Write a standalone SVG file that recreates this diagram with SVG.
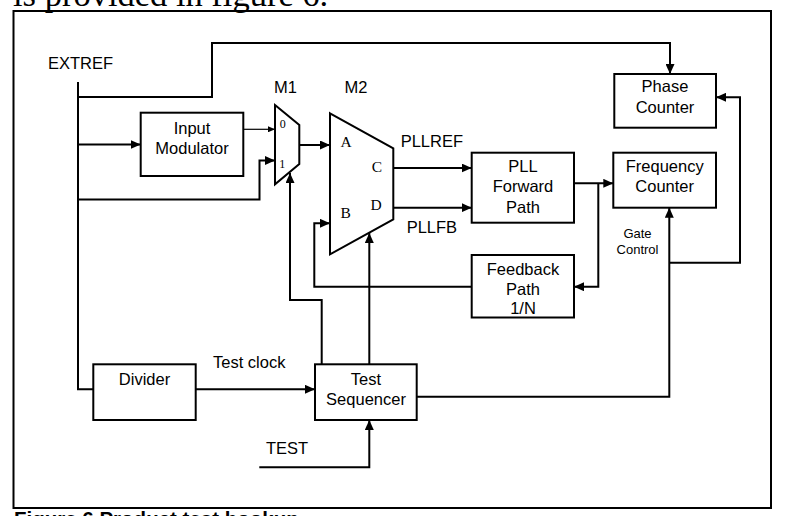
<svg xmlns="http://www.w3.org/2000/svg" width="789" height="516" viewBox="0 0 789 516">
  <style>
    .box { fill: #fff; stroke: #000; stroke-width: 2; }
    .mux { fill: #fff; stroke: #000; stroke-width: 2; stroke-linejoin: miter; }
    .wire { fill: none; stroke: #000; stroke-width: 2; }
    .thin { fill: none; stroke: #000; stroke-width: 1.2; }
    .lbl { font-family: "Liberation Sans", Arial, sans-serif; font-size: 16.5px; fill: #000; }
    .mid { text-anchor: middle; }
    .small { font-size: 13px; }
    .pin { font-family: "Liberation Serif", "Times New Roman", serif; font-size: 15.5px; fill: #000; text-anchor: middle; }
    .pinS { font-size: 12px; }
  </style>
  <defs>
    <marker id="arr" markerUnits="userSpaceOnUse" markerWidth="10" markerHeight="9" refX="10" refY="4.5" orient="auto">
      <path d="M0,0 L10,4.5 L0,9 Z" fill="#000"/>
    </marker>
    <marker id="arrS" markerUnits="userSpaceOnUse" markerWidth="7" markerHeight="6" refX="7" refY="3" orient="auto">
      <path d="M0,0 L7,3 L0,6 Z" fill="#000"/>
    </marker>
  </defs>

  <rect width="789" height="516" fill="#fff"/>

  <!-- surrounding page text, partly outside the frame -->
  <text x="13" y="6" font-family="'Liberation Serif', 'Times New Roman', serif" font-size="34.5">is provided in figure 6.</text>
  <text x="14" y="525.5" font-family="'Liberation Sans', Arial, sans-serif" font-size="20.5" font-weight="bold">Figure 6 Product test hookup</text>

  <!-- figure frame -->
  <rect x="13.5" y="11" width="757.5" height="497" fill="none" stroke="#000" stroke-width="2"/>

  <!-- connectors -->
  <g id="connectors">
    <path class="wire" d="M78,82 V389.3 H93.3"/>
    <path class="wire" d="M78,97 H212 V43 H670 V74" marker-end="url(#arr)"/>
    <path class="wire" d="M78,144.5 H140.7" marker-end="url(#arr)"/>
    <path class="wire" d="M78,199.5 H259.5 V160.5 H275" marker-end="url(#arr)"/>
    <path class="thin" d="M243.5,129.3 H275" marker-end="url(#arrS)"/>
    <path class="wire" d="M299.3,145 H330" marker-end="url(#arr)"/>
    <path class="wire" d="M393.3,168 H471.7" marker-end="url(#arr)"/>
    <path class="wire" d="M393.3,207.7 H471.7" marker-end="url(#arr)"/>
    <path class="wire" d="M574,183.3 H613.3" marker-end="url(#arr)"/>
    <path class="wire" d="M598.3,183.3 V286.7 H574" marker-end="url(#arr)"/>
    <path class="wire" d="M471.7,286.7 H314.3 V223.3 H330" marker-end="url(#arr)"/>
    <path class="wire" d="M195.7,389.3 H315" marker-end="url(#arr)"/>
    <path class="wire" d="M259.3,467.3 H369.3 V420" marker-end="url(#arr)"/>
    <path class="wire" d="M321.7,364.3 V300 H290 V173" marker-end="url(#arr)"/>
    <path class="wire" d="M369.3,364.3 V233" marker-end="url(#arr)"/>
    <path class="wire" d="M416.7,396.7 H669.3 V207.7" marker-end="url(#arr)"/>
    <path class="wire" d="M669.3,262.7 H740 V97.3 H716" marker-end="url(#arr)"/>
  </g>

  <!-- signal labels -->
  <g id="labels">
    <text class="lbl" x="48" y="69">EXTREF</text>
    <text class="lbl" x="400.7" y="147.3">PLLREF</text>
    <text class="lbl" x="406.7" y="233.3">PLLFB</text>
    <text class="lbl" x="213" y="367.7">Test clock</text>
    <text class="lbl" x="266" y="454">TEST</text>
    <text class="lbl small mid" x="637.5" y="238.3">Gate</text>
    <text class="lbl small mid" x="637.5" y="254.3">Control</text>
  </g>

  <g id="input-modulator">
    <rect class="box" x="140.7" y="112.7" width="102.6" height="63.3"/>
    <text class="lbl mid" x="192" y="133.5">Input</text>
    <text class="lbl mid" x="192" y="153.5">Modulator</text>
  </g>

  <g id="m1">
    <polygon class="mux" points="275,105 299.3,125 299.3,164 275,184.3"/>
    <text class="lbl mid" x="285.5" y="93.3">M1</text>
    <text class="pin pinS" x="282.7" y="128.3">0</text>
    <text class="pin pinS" x="282.3" y="168.3">1</text>
  </g>

  <g id="m2">
    <polygon class="mux" points="330,113.3 393.3,148.3 393.3,219.3 330,254.3"/>
    <text class="lbl mid" x="356" y="93.3">M2</text>
    <text class="pin" x="346" y="147.3">A</text>
    <text class="pin" x="345.7" y="218.3">B</text>
    <text class="pin" x="377" y="171.7">C</text>
    <text class="pin" x="376" y="210">D</text>
  </g>

  <g id="pll-forward-path">
    <rect class="box" x="471.7" y="152.7" width="102.3" height="70"/>
    <text class="lbl mid" x="523" y="171.7">PLL</text>
    <text class="lbl mid" x="523" y="192.3">Forward</text>
    <text class="lbl mid" x="523" y="212.7">Path</text>
  </g>

  <g id="feedback-path">
    <rect class="box" x="471.7" y="255" width="102.3" height="62.5"/>
    <text class="lbl mid" x="523" y="275">Feedback</text>
    <text class="lbl mid" x="523" y="295">Path</text>
    <text class="lbl mid" x="523" y="314">1/N</text>
  </g>

  <g id="phase-counter">
    <rect class="box" x="614.3" y="74" width="101.7" height="53.7"/>
    <text class="lbl mid" x="665" y="92.3">Phase</text>
    <text class="lbl mid" x="665" y="113">Counter</text>
  </g>

  <g id="frequency-counter">
    <rect class="box" x="613.3" y="152.7" width="102.7" height="55"/>
    <text class="lbl mid" x="664.7" y="171.7">Frequency</text>
    <text class="lbl mid" x="664.7" y="191.7">Counter</text>
  </g>

  <g id="divider">
    <rect class="box" x="93.3" y="364.3" width="102.4" height="55.7"/>
    <text class="lbl mid" x="144.5" y="385">Divider</text>
  </g>

  <g id="test-sequencer">
    <rect class="box" x="315" y="364.3" width="101.7" height="55.7"/>
    <text class="lbl mid" x="366" y="385">Test</text>
    <text class="lbl mid" x="366" y="405">Sequencer</text>
  </g>
</svg>
